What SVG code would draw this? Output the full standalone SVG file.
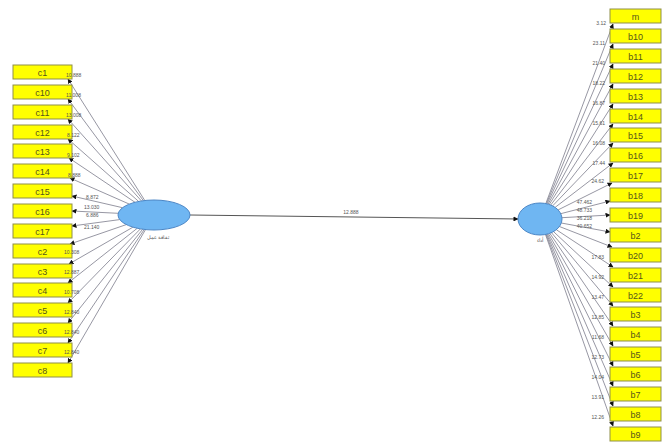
<svg xmlns="http://www.w3.org/2000/svg" width="665" height="442" viewBox="0 0 665 442">
  <defs>
    <marker id="ah" viewBox="0 0 10 10" refX="9" refY="5" markerWidth="5" markerHeight="5" orient="auto" markerUnits="userSpaceOnUse">
      <path d="M0,0 L10,5 L0,10 z" fill="#111"/>
    </marker>
    <style>
      .ind rect { fill: #ffff00; stroke: #8f8f4a; stroke-width: 1; }
      .ind text { font-family: "Liberation Sans", Arial, sans-serif; font-size: 9px; fill: #55551a; text-anchor: middle; }
      .lv ellipse { fill: #6fb6f2; stroke: #4b86c6; stroke-width: 1; }
      .lvlab { font-family: "Liberation Sans", Arial, sans-serif; font-size: 5px; fill: #555; text-anchor: middle; }
      .cn line { stroke: #7c7c8c; stroke-width: 0.8; marker-end: url(#ah); }
      .cn line.main { stroke: #555; stroke-width: 1; }
      .val { font-family: "Liberation Sans", Arial, sans-serif; font-size: 5px; fill: #555; }
      .vr { text-anchor: end; }
    </style>
  </defs>
  <rect width="665" height="442" fill="#ffffff"/>

  <!-- connectors -->
  <g id="connectors" class="cn">
    <line class="main" x1="190" y1="215" x2="518" y2="219"/>
    <!-- left construct to indicators -->
    <line x1="144.8" y1="200.5" x2="68" y2="79"/>
    <line x1="143.4" y1="200.7" x2="68" y2="99"/>
    <line x1="141.4" y1="200.9" x2="68" y2="119"/>
    <line x1="138.6" y1="201.4" x2="68" y2="139"/>
    <line x1="135.0" y1="202.3" x2="69" y2="158"/>
    <line x1="129.3" y1="204.1" x2="70" y2="178"/>
    <line x1="122.5" y1="207.7" x2="72" y2="196"/>
    <line x1="118.2" y1="213.3" x2="72" y2="211"/>
    <line x1="119.7" y1="219.6" x2="72" y2="226"/>
    <line x1="126.3" y1="224.6" x2="70" y2="244"/>
    <line x1="132.9" y1="227.2" x2="69" y2="264"/>
    <line x1="137.2" y1="228.3" x2="68" y2="283"/>
    <line x1="140.4" y1="228.9" x2="68" y2="303"/>
    <line x1="142.7" y1="229.2" x2="68" y2="323"/>
    <line x1="144.3" y1="229.4" x2="68" y2="343"/>
    <line x1="145.5" y1="229.6" x2="68" y2="363"/>
    <!-- right construct to indicators -->
    <line x1="545.8" y1="203.6" x2="613" y2="24"/>
    <line x1="546.4" y1="203.7" x2="613" y2="44"/>
    <line x1="547.1" y1="203.9" x2="613" y2="64"/>
    <line x1="548.1" y1="204.1" x2="613" y2="84"/>
    <line x1="549.2" y1="204.5" x2="613" y2="104"/>
    <line x1="550.7" y1="205.0" x2="613" y2="124"/>
    <line x1="552.6" y1="205.9" x2="613" y2="143"/>
    <line x1="555.1" y1="207.4" x2="613" y2="163"/>
    <line x1="558.1" y1="209.9" x2="612" y2="183"/>
    <line x1="560.7" y1="213.7" x2="610" y2="201"/>
    <line x1="561.9" y1="217.7" x2="610" y2="215"/>
    <line x1="561.3" y1="223.0" x2="610" y2="232"/>
    <line x1="559.4" y1="226.5" x2="612" y2="247"/>
    <line x1="556.3" y1="229.7" x2="613" y2="267"/>
    <line x1="553.5" y1="231.6" x2="613" y2="287"/>
    <line x1="551.5" y1="232.7" x2="613" y2="306"/>
    <line x1="549.8" y1="233.3" x2="613" y2="326"/>
    <line x1="548.5" y1="233.8" x2="613" y2="346"/>
    <line x1="547.5" y1="234.1" x2="613" y2="366"/>
    <line x1="546.7" y1="234.3" x2="613" y2="386"/>
    <line x1="546.0" y1="234.4" x2="613" y2="406"/>
    <line x1="545.5" y1="234.5" x2="613" y2="426"/>
  </g>

  <!-- path coefficient -->
  <text class="val" x="351" y="214" text-anchor="middle">12.888</text>

  <!-- latent variables -->
  <g id="lv-left" class="lv">
    <ellipse cx="154" cy="215" rx="36" ry="15"/>
    <text class="lvlab" x="158" y="239">ثقافة عمل</text>
  </g>
  <g id="lv-right" class="lv">
    <ellipse cx="540" cy="219" rx="22" ry="16"/>
    <text class="lvlab" x="540" y="242">أداء</text>
  </g>

  <!-- indicators, left -->
  <g id="c1" class="ind"><rect x="13" y="65" width="59" height="14"/><text x="42.5" y="75.5">c1</text></g>
  <g id="c10" class="ind"><rect x="13" y="85" width="59" height="14"/><text x="42.5" y="95.5">c10</text></g>
  <g id="c11" class="ind"><rect x="13" y="105" width="59" height="14"/><text x="42.5" y="115.5">c11</text></g>
  <g id="c12" class="ind"><rect x="13" y="125" width="59" height="14"/><text x="42.5" y="135.5">c12</text></g>
  <g id="c13" class="ind"><rect x="13" y="144" width="59" height="14"/><text x="42.5" y="154.5">c13</text></g>
  <g id="c14" class="ind"><rect x="13" y="164" width="59" height="14"/><text x="42.5" y="174.5">c14</text></g>
  <g id="c15" class="ind"><rect x="13" y="184" width="59" height="14"/><text x="42.5" y="194.5">c15</text></g>
  <g id="c16" class="ind"><rect x="13" y="204" width="59" height="14"/><text x="42.5" y="214.5">c16</text></g>
  <g id="c17" class="ind"><rect x="13" y="224" width="59" height="14"/><text x="42.5" y="234.5">c17</text></g>
  <g id="c2" class="ind"><rect x="13" y="244" width="59" height="14"/><text x="42.5" y="254.5">c2</text></g>
  <g id="c3" class="ind"><rect x="13" y="264" width="59" height="14"/><text x="42.5" y="274.5">c3</text></g>
  <g id="c4" class="ind"><rect x="13" y="283" width="59" height="14"/><text x="42.5" y="293.5">c4</text></g>
  <g id="c5" class="ind"><rect x="13" y="303" width="59" height="14"/><text x="42.5" y="313.5">c5</text></g>
  <g id="c6" class="ind"><rect x="13" y="323" width="59" height="14"/><text x="42.5" y="333.5">c6</text></g>
  <g id="c7" class="ind"><rect x="13" y="343" width="59" height="14"/><text x="42.5" y="353.5">c7</text></g>
  <g id="c8" class="ind"><rect x="13" y="363" width="59" height="14"/><text x="42.5" y="373.5">c8</text></g>

  <!-- indicators, right -->
  <g id="m" class="ind"><rect x="610" y="9" width="51" height="14"/><text x="635.5" y="19.5">m</text></g>
  <g id="b10" class="ind"><rect x="610" y="29" width="51" height="14"/><text x="635.5" y="39.5">b10</text></g>
  <g id="b11" class="ind"><rect x="610" y="49" width="51" height="14"/><text x="635.5" y="59.5">b11</text></g>
  <g id="b12" class="ind"><rect x="610" y="69" width="51" height="14"/><text x="635.5" y="79.5">b12</text></g>
  <g id="b13" class="ind"><rect x="610" y="89" width="51" height="14"/><text x="635.5" y="99.5">b13</text></g>
  <g id="b14" class="ind"><rect x="610" y="109" width="51" height="14"/><text x="635.5" y="119.5">b14</text></g>
  <g id="b15" class="ind"><rect x="610" y="128" width="51" height="14"/><text x="635.5" y="138.5">b15</text></g>
  <g id="b16" class="ind"><rect x="610" y="148" width="51" height="14"/><text x="635.5" y="158.5">b16</text></g>
  <g id="b17" class="ind"><rect x="610" y="168" width="51" height="14"/><text x="635.5" y="178.5">b17</text></g>
  <g id="b18" class="ind"><rect x="610" y="188" width="51" height="14"/><text x="635.5" y="198.5">b18</text></g>
  <g id="b19" class="ind"><rect x="610" y="208" width="51" height="14"/><text x="635.5" y="218.5">b19</text></g>
  <g id="b2" class="ind"><rect x="610" y="228" width="51" height="14"/><text x="635.5" y="238.5">b2</text></g>
  <g id="b20" class="ind"><rect x="610" y="248" width="51" height="14"/><text x="635.5" y="258.5">b20</text></g>
  <g id="b21" class="ind"><rect x="610" y="268" width="51" height="14"/><text x="635.5" y="278.5">b21</text></g>
  <g id="b22" class="ind"><rect x="610" y="288" width="51" height="14"/><text x="635.5" y="298.5">b22</text></g>
  <g id="b3" class="ind"><rect x="610" y="307" width="51" height="14"/><text x="635.5" y="317.5">b3</text></g>
  <g id="b4" class="ind"><rect x="610" y="327" width="51" height="14"/><text x="635.5" y="337.5">b4</text></g>
  <g id="b5" class="ind"><rect x="610" y="347" width="51" height="14"/><text x="635.5" y="357.5">b5</text></g>
  <g id="b6" class="ind"><rect x="610" y="367" width="51" height="14"/><text x="635.5" y="377.5">b6</text></g>
  <g id="b7" class="ind"><rect x="610" y="387" width="51" height="14"/><text x="635.5" y="397.5">b7</text></g>
  <g id="b8" class="ind"><rect x="610" y="407" width="51" height="14"/><text x="635.5" y="417.5">b8</text></g>
  <g id="b9" class="ind"><rect x="610" y="427" width="51" height="14"/><text x="635.5" y="437.5">b9</text></g>

  <!-- loadings, left (drawn over box edges) -->
  <g id="left-values" class="val">
    <text x="66" y="77">10.888</text>
    <text x="66" y="97">11.008</text>
    <text x="66" y="117">13.008</text>
    <text x="67" y="137">8.122</text>
    <text x="67" y="157">9.102</text>
    <text x="68" y="177">8.888</text>
    <text x="86" y="199">8.872</text>
    <text x="84" y="209">13.030</text>
    <text x="86" y="217">6.886</text>
    <text x="84" y="229">21.140</text>
    <text x="64" y="254">10.308</text>
    <text x="64" y="274">12.887</text>
    <text x="64" y="294">10.708</text>
    <text x="64" y="314">12.840</text>
    <text x="64" y="334">12.840</text>
    <text x="64" y="354">12.840</text>
  </g>

  <!-- loadings, right -->
  <g id="right-values" class="val vr">
    <text x="606" y="25">3.12</text>
    <text x="605" y="45">23.11</text>
    <text x="605" y="65">21.40</text>
    <text x="605" y="85">18.22</text>
    <text x="605" y="105">16.87</text>
    <text x="605" y="125">15.61</text>
    <text x="605" y="145">16.08</text>
    <text x="605" y="165">17.44</text>
    <text x="604" y="183">24.62</text>
    <text x="592" y="204">47.462</text>
    <text x="592" y="212">48.733</text>
    <text x="592" y="220">36.218</text>
    <text x="592" y="228">40.652</text>
    <text x="604" y="259">17.83</text>
    <text x="604" y="279">14.92</text>
    <text x="604" y="299">13.47</text>
    <text x="604" y="319">12.85</text>
    <text x="604" y="339">11.68</text>
    <text x="604" y="359">12.73</text>
    <text x="604" y="379">14.04</text>
    <text x="604" y="399">13.91</text>
    <text x="604" y="419">12.26</text>
  </g>
</svg>
